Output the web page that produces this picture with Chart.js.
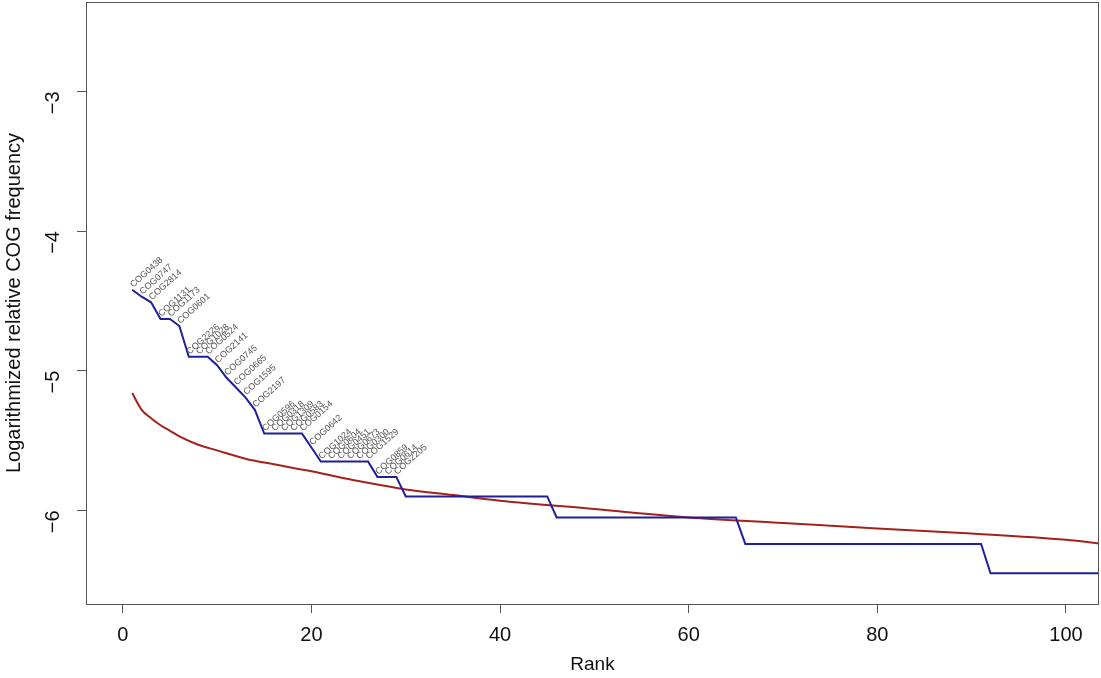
<!DOCTYPE html>
<html>
<head>
<meta charset="utf-8">
<script src="https://cdn.jsdelivr.net/npm/chart.js@4/dist/chart.umd.min.js"></script>
<style>
  html, body { margin: 0; padding: 0; background: #fff; }
  #wrap { width: 1101px; height: 678px; }
</style>
</head>
<body>
<div id="wrap"><canvas id="myChart" width="1101" height="678"></canvas></div>
<script>
// blue: observed COG frequencies (rank -> log value), steps given by their corners
const blueRank = [1, 2, 3, 4, 5, 6, 7, 8, 9, 10, 11, 12, 13, 14, 15, 16, 17, 18, 19, 20,
    21, 22, 23, 24, 25, 26, 27, 28, 29, 30, 45, 46, 65, 66, 91, 92, 104];
const blueValue = [-4.42, -4.47, -4.51, -4.63, -4.63, -4.68, -4.90, -4.90, -4.90, -4.96,
    -5.05, -5.12, -5.19, -5.28, -5.45, -5.45, -5.45, -5.45, -5.45, -5.55,
    -5.65, -5.65, -5.65, -5.65, -5.65, -5.65, -5.76, -5.76, -5.76, -5.90,
    -5.90, -6.05, -6.05, -6.24, -6.24, -6.45, -6.45];

// red: expected curve
const redRank = [1, 2, 3, 4, 5, 6, 8, 10, 13, 16, 20, 25, 30, 35, 40, 50, 60, 70, 80, 90, 100, 104];
const redValue = [-5.16, -5.28, -5.34, -5.39, -5.43, -5.47, -5.53, -5.57, -5.63, -5.67, -5.72,
    -5.79, -5.85, -5.89, -5.93, -5.99, -6.05, -6.09, -6.13, -6.165, -6.21, -6.24];

// names of the top ranked COGs (ranks 1..29)
const cogLabels = ['COG0438', 'COG0747', 'COG2814', 'COG1131', 'COG1173', 'COG0601',
    'COG2226', 'COG1028', 'COG0524', 'COG2141', 'COG0745', 'COG0665', 'COG1595', 'COG2197',
    'COG0596', 'COG0318', 'COG1309', 'COG0583', 'COG0154', 'COG0642',
    'COG1024', 'COG0604', 'COG0451', 'COG0673', 'COG0300', 'COG1529',
    'COG0859', 'COG0614', 'COG2205'];

const xTicks = [0, 20, 40, 60, 80, 100];
const yTicks = [-6, -5, -4, -3];

const FONT = '"Liberation Sans", Arial, sans-serif';

function toPoints(xs, ys) {
    let pts = [];
    for (let i = 0; i < xs.length; i++) {
        pts.push({ x: xs[i], y: ys[i] });
    }
    return pts;
}

// box around the plot + rotated COG names
const decorPlugin = {
    id: 'decor',
    afterDatasetsDraw(chart) {
        const c = chart.ctx;
        const xs = chart.scales.x;
        const ys = chart.scales.y;
        c.save();
        c.font = '9px ' + FONT;
        c.fillStyle = '#555';
        c.textAlign = 'left';
        c.textBaseline = 'alphabetic';
        for (let i = 0; i < cogLabels.length; i++) {
            let px = xs.getPixelForValue(blueRank[i]);
            let py = ys.getPixelForValue(blueValue[i]);
            c.save();
            c.translate(px + 1, py - 2);
            c.rotate(-42 * Math.PI / 180);
            c.fillText(cogLabels[i], 0, 0);
            c.restore();
        }
        const a = chart.chartArea;
        c.strokeStyle = '#555';
        c.lineWidth = 1;
        c.strokeRect(a.left + 0.5, a.top + 0.5, a.right - a.left - 1, a.bottom - a.top);
        c.restore();
    }
};

const ctx = document.getElementById('myChart').getContext('2d');

const config = {
    type: 'line',
    data: {
        datasets: [
            {
                label: 'observed',
                data: toPoints(blueRank, blueValue),
                borderColor: '#1f1f9c',
                borderWidth: 2,
                pointRadius: 0,
                tension: 0,
                fill: false,
            },
            {
                label: 'expected',
                data: toPoints(redRank, redValue),
                borderColor: '#a3221c',
                borderWidth: 2,
                pointRadius: 0,
                tension: 0.4,
                cubicInterpolationMode: 'monotone',
                fill: false,
            },
        ]
    },
    options: {
        responsive: false,
        animation: false,
        layout: { padding: { top: 2, right: 2, left: 0, bottom: 0 } },
        plugins: {
            legend: { display: false },
            tooltip: { enabled: false },
        },
        scales: {
            x: {
                type: 'linear',
                min: -3.9,
                max: 103.5,
                afterBuildTicks: (scale) => { scale.ticks = xTicks.map(v => ({ value: v })); },
                afterFit: (scale) => {
                    scale.height = 74;
                    scale.paddingLeft = 0;
                    scale.paddingRight = 0;
                },
                grid: { drawOnChartArea: false, drawTicks: true, tickLength: 9, color: '#555' },
                border: { display: false },
                ticks: { color: '#111', font: { family: FONT, size: 20 }, padding: 10, maxRotation: 0 },
                title: { display: true, text: 'Rank', color: '#111', font: { family: FONT, size: 19 }, padding: { top: 0, bottom: 2 } },
            },
            y: {
                type: 'linear',
                min: -6.67,
                max: -2.36,
                afterBuildTicks: (scale) => { scale.ticks = yTicks.map(v => ({ value: v })); },
                afterFit: (scale) => {
                    scale.width = 86;
                    scale.paddingTop = 0;
                    scale.paddingBottom = 0;
                },
                grid: { drawOnChartArea: false, drawTicks: true, tickLength: 9, color: '#555' },
                border: { display: false },
                ticks: { color: '#111', font: { family: FONT, size: 20 }, padding: 24, minRotation: 90, maxRotation: 90,
                    callback: (v) => String(v).replace('-', '\u2212') },
                title: { display: true, text: 'Logarithmized relative COG frequency', color: '#111', font: { family: FONT, size: 20 }, padding: { top: 2, bottom: 0 } },
            }
        }
    },
    plugins: [decorPlugin]
};

const chart = new Chart(ctx, config);
</script>
</body>
</html>
